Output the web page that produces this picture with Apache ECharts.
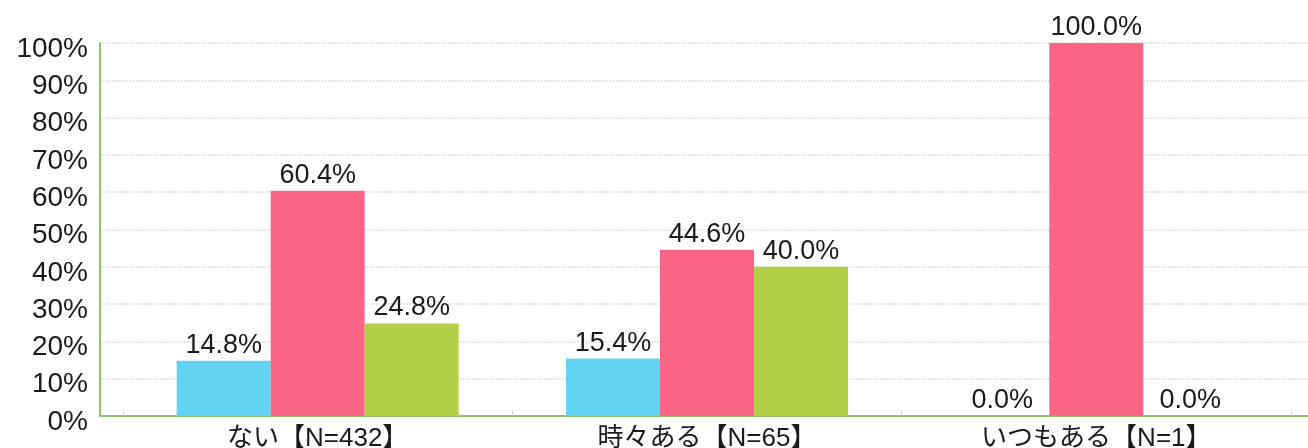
<!DOCTYPE html>
<html>
<head>
<meta charset="utf-8">
<script src="https://cdn.jsdelivr.net/npm/echarts@6/dist/echarts.min.js"></script>
<style>
  html, body { margin: 0; padding: 0; background: #ffffff; }
  #chart { width: 1308px; height: 448px; }
</style>
</head>
<body>
<div id="chart"></div>
<script>
// Categories and the share (%) of each response group
const categories = ['ない【N=432】', '時々ある【N=65】', 'いつもある【N=1】'];
const seriesBlue = [14.8, 15.4, 0.0];
const seriesPink = [60.4, 44.6, 100.0];
const seriesGreen = [24.8, 40.0, 0.0];
const yTicks = [0, 10, 20, 30, 40, 50, 60, 70, 80, 90, 100];

const FONT = '"Liberation Sans", "Noto Sans CJK JP", Arial, sans-serif';
const AXIS_GREEN = '#8cc36e';

const chart = echarts.init(document.getElementById('chart'), null, { renderer: 'canvas' });

function barSeries(values, color) {
  return {
    type: 'bar',
    xAxisIndex: 1,
    yAxisIndex: 1,
    data: values,
    barWidth: 94,
    barGap: '0%',
    itemStyle: { color: color },
    label: {
      show: true,
      position: 'top',
      distance: 2,
      color: '#1a1a1a',
      fontFamily: FONT,
      fontSize: 27,
      formatter: p => p.value.toFixed(1) + '%'
    }
  };
}

chart.setOption({
  animation: false,
  backgroundColor: '#ffffff',
  grid: [
    // frame with the value scale, gridlines and green axis lines
    { left: 100, right: 0, top: 43, bottom: 32, outerBoundsMode: 'none', containLabel: false },
    // plotting area for the grouped bars
    { left: 123, right: 17, top: 43, bottom: 32, outerBoundsMode: 'none', containLabel: false }
  ],
  xAxis: [
    {
      type: 'value', gridIndex: 0, min: 0, max: 1,
      axisLine: { show: true, lineStyle: { color: AXIS_GREEN, width: 2 } },
      axisTick: { show: false }, axisLabel: { show: false }, splitLine: { show: false }
    },
    {
      type: 'category', gridIndex: 1, data: categories,
      axisLine: { show: false },
      axisTick: { show: true, inside: true, length: 5, alignWithLabel: false, lineStyle: { color: '#c8c8c8' } },
      axisLabel: { color: '#1a1a1a', fontFamily: FONT, fontSize: 26, margin: 10 }
    }
  ],
  yAxis: [
    {
      type: 'value', gridIndex: 0, min: 0, max: 100, interval: 10,
      axisLine: { show: true, lineStyle: { color: AXIS_GREEN, width: 2 } },
      axisTick: { show: false },
      axisLabel: {
        color: '#1a1a1a', fontFamily: FONT, fontSize: 28, margin: 12,
        verticalAlign: 'top', lineHeight: 12,
        formatter: v => (yTicks.includes(v) ? v + '%' : '')
      },
      splitLine: { show: true, lineStyle: { color: '#d6d6c8', type: 'dotted', width: 1.5 } }
    },
    {
      type: 'value', gridIndex: 1, min: 0, max: 100, interval: 10,
      show: false
    }
  ],
  series: [
    barSeries(seriesBlue, '#63d3f3'),
    barSeries(seriesPink, '#fb6585'),
    barSeries(seriesGreen, '#b4cf48')
  ]
});
</script>
</body>
</html>
